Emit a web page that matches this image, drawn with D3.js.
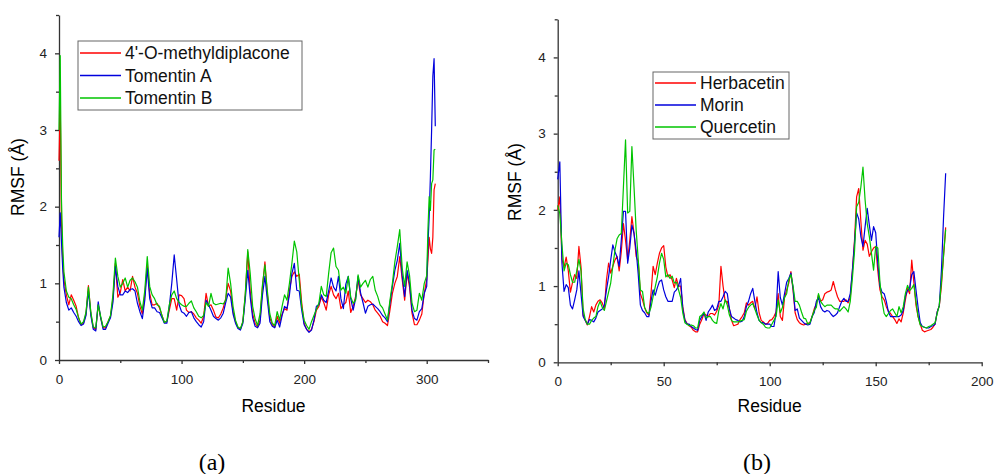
<!DOCTYPE html>
<html>
<head>
<meta charset="utf-8">
<script src="https://cdn.jsdelivr.net/npm/d3@7"></script>
<style>
  html, body { margin: 0; padding: 0; background: #fff; }
  svg { display: block; font-family: "Liberation Sans", Arial, sans-serif; }
</style>
</head>
<body>
<svg id="chart" width="995" height="474"></svg>
<script>
// ---------- Panel (a) data ----------
const residuesA = [0, 1, 2, 3].concat(d3.range(4, 301, 2), [301, 302, 303, 304, 305, 306, 307]);
const namesA = ["4'-O-methyldiplacone", "Tomentin A", "Tomentin B"];
const methyldiplacone = [2.6,3.35,1.8,1.3,
  1.05,0.85,0.72,0.85,0.78,0.7,0.55,0.46,0.48,0.6,
  0.97,0.6,0.42,0.4,0.72,0.55,0.42,0.42,0.5,0.57,
  0.8,1.26,0.82,0.88,1.05,0.9,0.95,0.9,1.09,0.95,
  0.87,0.7,0.6,0.85,1.24,0.87,0.72,0.72,0.74,0.68,
  0.58,0.49,0.5,0.65,0.8,0.8,0.65,0.85,0.84,0.8,
  0.65,0.62,0.63,0.6,0.55,0.52,0.48,0.57,0.87,0.7,
  0.72,0.65,0.56,0.55,0.6,0.68,0.8,1.0,0.9,0.63,
  0.5,0.42,0.4,0.5,0.85,1.41,0.9,0.6,0.48,0.43,
  0.52,0.95,1.28,0.85,0.55,0.46,0.43,0.57,0.48,0.6,
  0.67,0.65,0.91,1.09,1.15,1.09,1.12,0.75,0.48,0.4,
  0.37,0.4,0.5,0.65,0.7,0.82,0.75,0.65,0.85,0.96,
  0.85,0.8,0.87,0.67,0.72,0.75,0.9,0.62,0.7,0.83,
  1.04,0.85,0.8,0.75,0.78,0.76,0.72,0.65,0.61,0.57,
  0.5,0.48,0.45,0.65,0.87,1.0,1.09,1.35,1.05,0.78,
  1.13,0.95,0.61,0.46,0.46,0.52,0.6,0.87,1.05,
  1.3,1.6,1.45,1.39,1.6,2.22,2.3];
const tomentinA = [1.6,1.92,1.55,1.2,
  0.95,0.75,0.65,0.68,0.62,0.57,0.5,0.45,0.47,0.58,
  0.9,0.58,0.4,0.38,0.76,0.55,0.4,0.4,0.48,0.55,
  0.75,1.22,0.96,0.85,0.85,0.9,0.88,0.92,0.93,0.9,
  0.74,0.63,0.54,0.78,1.2,0.8,0.68,0.68,0.63,0.62,
  0.55,0.48,0.48,0.7,1.0,1.37,1.05,0.72,0.63,0.61,
  0.57,0.62,0.63,0.55,0.5,0.46,0.43,0.5,0.78,0.72,
  0.65,0.57,0.54,0.52,0.55,0.61,0.75,0.87,0.82,0.6,
  0.48,0.41,0.39,0.48,0.8,1.17,0.82,0.55,0.44,0.42,
  0.48,0.85,1.09,0.78,0.5,0.44,0.42,0.52,0.43,0.58,
  0.7,0.67,0.85,1.13,1.26,0.91,0.9,0.65,0.46,0.4,
  0.36,0.39,0.52,0.7,0.72,0.85,0.78,0.75,0.9,1.07,
  0.95,0.9,1.09,0.8,0.67,0.99,1.09,0.8,0.65,0.8,
  1.09,0.88,0.75,0.61,0.7,0.72,0.73,0.7,0.67,0.63,
  0.58,0.55,0.5,0.74,0.96,1.17,1.3,1.52,1.1,0.83,
  1.17,1.0,0.65,0.54,0.52,0.63,0.67,0.87,0.96,
  1.5,1.87,2.39,3.0,3.7,3.93,3.05];
const tomentinB = [3.0,3.97,2.1,1.5,
  1.15,0.9,0.82,0.8,0.72,0.66,0.55,0.47,0.5,0.62,
  0.95,0.62,0.43,0.42,0.72,0.57,0.43,0.44,0.5,0.58,
  0.85,1.33,1.09,0.95,1.0,1.07,0.95,1.04,1.07,1.02,
  0.95,0.76,0.65,0.91,1.35,0.96,0.85,0.8,0.72,0.7,
  0.58,0.49,0.51,0.72,0.85,0.9,0.8,0.75,0.72,0.7,
  0.7,0.74,0.77,0.68,0.63,0.57,0.55,0.58,0.75,0.7,
  0.87,0.74,0.72,0.73,0.74,0.73,0.78,1.2,1.0,0.7,
  0.52,0.43,0.41,0.5,0.87,1.44,1.13,0.7,0.54,0.45,
  0.6,0.98,1.24,0.9,0.6,0.48,0.45,0.63,0.52,0.7,
  0.85,0.78,1.0,1.26,1.55,1.41,1.04,0.7,0.52,0.45,
  0.4,0.5,0.58,0.66,0.74,0.96,0.85,0.83,1.13,1.4,
  1.46,1.22,1.17,0.91,0.95,0.87,1.09,0.82,0.74,0.78,
  1.11,0.95,1.0,1.04,0.95,1.05,1.09,0.91,0.83,0.72,
  0.68,0.6,0.52,0.78,1.0,1.28,1.48,1.7,1.2,0.96,
  1.28,1.1,0.74,0.63,0.65,0.87,0.78,1.0,1.1,
  1.7,2.13,1.95,2.3,2.35,2.74,2.75];

// ---------- Panel (b) data ----------
const residuesB = d3.range(0, 184);
const namesB = ["Herbacetin", "Morin", "Quercetin"];
const herbacetin = [
  2.0,2.17,1.35,1.25,1.38,1.2,0.92,1.05,1.15,1.1,
  1.52,1.25,0.62,0.55,0.49,0.6,0.73,0.66,0.75,0.8,
  0.82,0.78,0.7,1.08,1.3,1.17,1.26,1.34,1.39,1.2,
  1.45,1.82,1.6,1.34,1.6,1.91,1.7,1.39,1.32,0.9,
  0.82,0.72,0.65,0.62,0.9,1.26,1.15,1.3,1.43,1.5,
  1.53,1.25,1.12,1.15,1.08,0.98,1.1,1.0,1.0,0.73,
  0.56,0.51,0.48,0.46,0.42,0.4,0.4,0.5,0.56,0.64,
  0.62,0.6,0.64,0.64,0.62,0.67,0.75,1.26,1.0,0.8,
  0.8,0.7,0.55,0.48,0.49,0.5,0.56,0.6,0.65,0.78,
  0.75,0.78,0.8,0.7,0.86,0.65,0.55,0.53,0.5,0.51,
  0.55,0.56,0.6,0.66,0.9,0.6,0.55,0.85,0.95,1.04,
  1.19,0.95,0.65,0.56,0.52,0.5,0.49,0.5,0.51,0.52,
  0.6,0.7,0.77,0.88,0.8,0.82,0.9,0.92,0.93,0.95,
  1.06,0.95,0.86,0.8,0.8,0.8,0.82,0.78,0.85,1.2,
  1.6,2.17,2.28,1.85,1.47,1.6,1.55,1.39,1.45,1.5,
  1.52,1.2,0.95,0.86,0.82,0.73,0.67,0.64,0.6,0.56,
  0.51,0.57,0.53,0.65,0.82,0.97,0.9,1.34,1.05,0.75,
  0.6,0.5,0.42,0.4,0.41,0.42,0.43,0.46,0.5,0.66,
  0.74,1.0,1.4,1.77];
const morin = [
  2.4,2.63,1.3,0.93,1.02,0.98,0.75,0.7,0.82,0.95,
  1.2,0.9,0.6,0.55,0.5,0.56,0.55,0.53,0.58,0.66,
  0.68,0.7,0.75,0.95,1.12,1.34,1.54,1.45,1.38,1.26,
  1.6,1.98,1.98,1.3,1.5,1.8,1.69,1.47,1.15,0.75,
  0.68,0.65,0.6,0.6,0.8,0.95,0.88,0.98,1.06,1.08,
  0.95,0.86,0.8,0.8,0.8,0.92,0.95,1.0,1.1,0.7,
  0.55,0.5,0.5,0.47,0.45,0.43,0.42,0.55,0.6,0.65,
  0.55,0.66,0.7,0.75,0.68,0.7,0.8,0.8,0.86,0.93,
  0.9,0.7,0.6,0.58,0.56,0.55,0.53,0.54,0.6,0.73,
  0.8,0.9,0.97,0.8,0.65,0.55,0.52,0.52,0.5,0.5,
  0.5,0.47,0.47,0.65,1.19,0.85,0.75,0.9,1.05,1.1,
  1.17,0.98,0.68,0.7,0.58,0.55,0.52,0.5,0.49,0.5,
  0.6,0.65,0.8,0.85,0.73,0.68,0.66,0.68,0.67,0.63,
  0.6,0.62,0.65,0.73,0.8,0.84,0.8,0.8,0.9,1.2,
  1.56,1.96,1.88,1.65,1.52,1.78,2.02,1.8,1.6,1.78,
  1.7,1.3,1.0,0.92,0.9,0.8,0.66,0.6,0.6,0.6,
  0.6,0.6,0.62,0.68,0.87,0.94,0.97,1.15,1.19,0.95,
  0.72,0.52,0.47,0.46,0.45,0.45,0.47,0.48,0.5,0.66,
  0.74,1.2,1.9,2.48];
const quercetin = [
  2.06,1.95,1.55,1.2,1.3,1.28,1.15,1.05,1.05,1.2,
  1.35,1.2,0.7,0.56,0.5,0.5,0.55,0.58,0.6,0.73,
  0.8,0.72,0.68,0.8,0.92,1.04,1.26,1.47,1.62,1.67,
  1.69,2.3,2.92,1.96,1.98,2.83,2.3,1.74,1.34,0.95,
  0.93,0.72,0.66,0.64,0.72,0.86,0.99,1.12,1.3,1.43,
  1.35,1.12,1.15,1.1,1.13,1.04,1.05,0.95,0.85,0.65,
  0.52,0.5,0.48,0.49,0.48,0.45,0.45,0.6,0.62,0.66,
  0.58,0.6,0.6,0.55,0.52,0.51,0.68,0.77,0.7,0.82,
  0.75,0.62,0.55,0.53,0.53,0.53,0.54,0.55,0.56,0.67,
  0.72,0.75,0.77,0.7,0.62,0.55,0.52,0.5,0.46,0.45,
  0.45,0.5,0.55,0.6,0.82,0.65,0.72,0.85,0.9,1.08,
  1.15,1.0,0.8,0.8,0.75,0.66,0.58,0.57,0.5,0.52,
  0.6,0.68,0.72,0.9,0.8,0.76,0.73,0.75,0.75,0.75,
  0.72,0.7,0.7,0.67,0.7,0.73,0.7,0.66,0.8,1.1,
  1.45,2.04,2.1,2.3,2.56,2.13,1.82,1.65,1.43,1.21,
  1.52,1.5,1.05,0.8,0.64,0.6,0.64,0.68,0.7,0.65,
  0.6,0.73,0.65,0.73,0.9,1.01,0.94,0.97,1.02,0.8,
  0.6,0.49,0.47,0.46,0.45,0.47,0.48,0.5,0.52,0.64,
  0.75,1.05,1.4,1.74];

const yTicks = [0, 1, 2, 3, 4];
const yMinor = [0.5, 1.5, 2.5, 3.5, 4.5];
const xTicksA = [0, 100, 200, 300];
const xMinorA = [50, 150, 250, 350];
const xTicksB = [0, 50, 100, 150, 200];
const xMinorB = [25, 75, 125, 175];
const colors = ["#ff0000", "#0000dd", "#00c400"];

const svg = d3.select("#chart");

function panel(cfg) {
  const x = d3.scaleLinear().domain(cfg.xDomain).range(cfg.xRange);
  const y = d3.scaleLinear().domain([0, 4.5]).range(cfg.yRange);
  const g = svg.append("g");

  // minor ticks
  g.append("g").attr("transform", `translate(0,${cfg.yRange[0]})`)
    .call(d3.axisBottom(x).tickValues(cfg.xMinor).tickSize(3).tickSizeOuter(0).tickFormat(""))
    .call(s => s.select(".domain").remove());
  g.append("g").attr("transform", `translate(${cfg.xRange[0]},0)`)
    .call(d3.axisLeft(y).tickValues(yMinor).tickSize(3).tickSizeOuter(0).tickFormat(""))
    .call(s => s.select(".domain").remove());

  const xa = g.append("g").attr("transform", `translate(0,${cfg.yRange[0]})`)
    .call(d3.axisBottom(x).tickValues(cfg.xTicks).tickSize(4).tickSizeOuter(0).tickPadding(10).tickFormat(d3.format("d")));
  const ya = g.append("g").attr("transform", `translate(${cfg.xRange[0]},0)`)
    .call(d3.axisLeft(y).tickValues(yTicks).tickSize(4).tickSizeOuter(0).tickPadding(8).tickFormat(d3.format("d")));
  g.selectAll(".tick text").attr("font-size", 13.5).attr("fill", "#222")
    .attr("font-family", "'Liberation Sans', Arial, sans-serif");
  g.selectAll(".domain, .tick line").attr("stroke", "#333").attr("stroke-width", 1.3);

  // series
  const line = d3.line().x((d, i) => x(cfg.residues[i])).y(d => y(d));
  cfg.series.forEach((s, i) => {
    g.append("path").datum(s).attr("d", line)
      .attr("fill", "none").attr("stroke", colors[i]).attr("stroke-width", 1.2)
      .attr("stroke-linejoin", "round");
  });

  // axis titles
  g.append("text").attr("x", (cfg.xRange[0] + cfg.xRange[1]) / 2 + cfg.titleDx)
    .attr("y", 412).attr("text-anchor", "middle").attr("font-size", 17.5).text("Residue");
  g.append("text").attr("transform", `translate(${cfg.yTitleX},${cfg.yTitleY}) rotate(-90)`)
    .attr("text-anchor", "middle").attr("font-size", 17.5).text("RMSF (Å)");

  // legend
  const L = cfg.legend;
  g.append("rect").attr("x", L.x).attr("y", L.y).attr("width", L.w).attr("height", L.h)
    .attr("fill", "#fff").attr("stroke", "#666").attr("stroke-width", 1);
  cfg.names.forEach((n, i) => {
    const yy = L.y + L.first + i * L.step;
    g.append("line").attr("x1", L.x + 2).attr("x2", L.x + L.lineW).attr("y1", yy).attr("y2", yy)
      .attr("stroke", colors[i]).attr("stroke-width", 1.3);
    g.append("text").attr("x", L.x + L.lineW + 4).attr("y", yy + 6)
      .attr("font-size", 17.5).attr("fill", "#111").text(n);
  });

  // caption
  svg.append("text").attr("x", cfg.capX).attr("y", 470).attr("text-anchor", "middle")
    .attr("font-family", "'Liberation Serif', 'Times New Roman', serif").attr("font-size", 24)
    .text(cfg.caption);
}

panel({
  xDomain: [0, 350], xRange: [59, 488], yRange: [360, 15],
  xTicks: xTicksA, xMinor: xMinorA, residues: residuesA,
  series: [methyldiplacone, tomentinA, tomentinB], names: namesA,
  titleDx: 0, yTitleX: 24, yTitleY: 177,
  legend: { x: 78, y: 41, w: 224, h: 69, first: 12, step: 22.5, lineW: 43 },
  capX: 212, caption: "(a)"
});
panel({
  xDomain: [0, 200], xRange: [557.7, 981.7], yRange: [362.3, 19.3],
  xTicks: xTicksB, xMinor: xMinorB, residues: residuesB,
  series: [herbacetin, morin, quercetin], names: namesB,
  titleDx: 0, yTitleX: 521, yTitleY: 182,
  legend: { x: 653, y: 72, w: 136, h: 67, first: 11, step: 22, lineW: 43 },
  capX: 757, caption: "(b)"
});
</script>
</body>
</html>
